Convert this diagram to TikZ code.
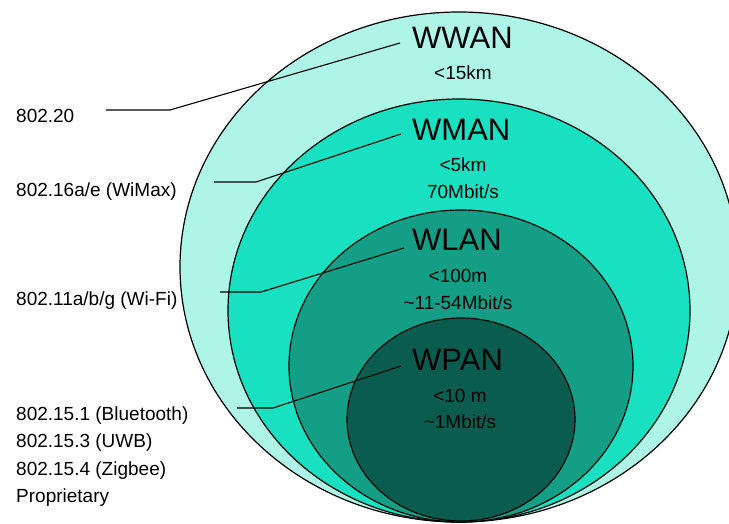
\documentclass[tikz,border=0pt]{standalone}
\usepackage{fontspec}
\setmainfont{Liberation Sans}
\usepackage{tikz}
\definecolor{wwancol}{RGB}{174,245,232}
\definecolor{wmancol}{RGB}{25,224,192}
\definecolor{wlancol}{RGB}{20,158,134}
\definecolor{wpancol}{RGB}{10,92,78}
\tikzstyle{zone}=[draw=black, line width=1.2pt]
\tikzstyle{title}=[anchor=base west, inner sep=0pt, font=\fontsize{31}{36}\selectfont]
\tikzstyle{info}=[anchor=base, inner sep=0pt, font=\fontsize{19}{22}\selectfont]
\tikzstyle{std}=[anchor=base west, inner sep=0pt, font=\fontsize{19}{22}\selectfont]
\tikzstyle{link}=[line width=1.1pt]

\begin{document}
\begin{tikzpicture}[x=1pt, y=-1pt]
	   \useasboundingbox (0,0) rectangle (729,523);
	   \clip (0,0) rectangle (729,523);
		   \begin{scope}
			   \draw[zone, fill=wwancol] (459,267) ellipse [x radius=279pt, y radius=255pt];
			   \draw[zone, fill=wmancol] (459,310.5) ellipse [x radius=231pt, y radius=211.5pt];
			   \draw[zone, fill=wlancol] (461,366) ellipse [x radius=172pt, y radius=156pt];
			   \draw[zone, fill=wpancol] (461,419.5) ellipse [x radius=114pt, y radius=101.5pt];
		   \end{scope}
		   \begin{scope}
			   \node[title] (wwan) at (412,48) {WWAN};
			   \node[info] (wwan1) at (463,79) {<15km};

			   \node[title] (wman) at (412,140) {WMAN};
			   \node[info] (wman1) at (463,171) {<5km};
			   \node[info] (wman2) at (463,198) {70Mbit/s};

			   \node[title] (wlan) at (412,250) {WLAN};
			   \node[info] (wlan1) at (458,282) {<100m};
			   \node[info] (wlan2) at (458,309) {\textasciitilde11-54Mbit/s};

			   \node[title] (wpan) at (412,370) {WPAN};
			   \node[info] (wpan1) at (460,402) {<10 m};
			   \node[info] (wpan2) at (460,428) {\textasciitilde1Mbit/s};

			   \node[std] (s0) at (16,122) {802.20};
			   \node[std] (s1) at (16,196) {802.16a/e (WiMax)};
			   \node[std] (s2) at (16,305) {802.11a/b/g (Wi-Fi)};
			   \node[std] (s3) at (16,420) {802.15.1 (Bluetooth)};
			   \node[std] (s4) at (16,447) {802.15.3 (UWB)};
			   \node[std] (s5) at (16,475) {802.15.4 (Zigbee)};
			   \node[std] (s6) at (16,502) {Proprietary};
		   \end{scope}
		   \begin{scope}
			   \coordinate (k0) at (106,110);
			   \coordinate (b0) at (170,110);
			   \coordinate (e0) at (400,43);

			   \coordinate (k1) at (214,182);
			   \coordinate (b1) at (256,182);
			   \coordinate (e1) at (401,134);

			   \coordinate (k2) at (220,292);
			   \coordinate (b2) at (261,292);
			   \coordinate (e2) at (404,248);

			   \coordinate (k3) at (237,408);
			   \coordinate (b3) at (273,408);
			   \coordinate (e3) at (401,366);

			   \draw[link] (k0) -- (b0) -- (e0);
			   \draw[link] (k1) -- (b1) -- (e1);
			   \draw[link] (k2) -- (b2) -- (e2);
			   \draw[link] (k3) -- (b3) -- (e3);
		   \end{scope}
	   \end{tikzpicture}
\end{document}
